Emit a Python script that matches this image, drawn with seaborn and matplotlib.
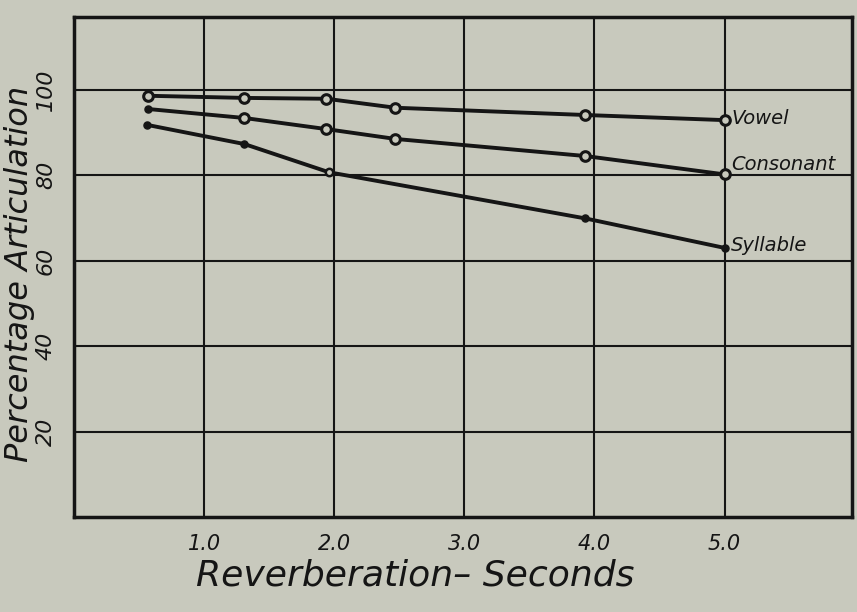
import matplotlib
matplotlib.use("Agg")
import matplotlib.pyplot as plt
import numpy as np
import pandas as pd
import seaborn as sns

# values
vowel_x = [0.57, 1.31, 1.94, 2.47, 3.93, 5.0]
vowel_y = [98.6, 98.1, 97.9, 95.8, 94.1, 92.9]
vowel_open = [True, True, True, True, True, True]

consonant_x = [0.57, 1.31, 1.94, 2.47, 3.93, 5.0]
consonant_y = [95.5, 93.4, 90.8, 88.5, 84.5, 80.2]
consonant_open = [False, True, True, True, True, True]

syllable_x = [0.56, 1.31, 1.96, 3.93, 5.0]
syllable_y = [91.8, 87.3, 80.7, 69.9, 63.0]
syllable_open = [False, False, True, False, False]

series_names = ["Vowel", "Consonant", "Syllable"]
label_shift = [0.3, 2.4, 0.6]
x_ticks = [1, 2, 3, 4, 5]
x_ticklabels = ["1.0", "2.0", "3.0", "4.0", "5.0"]
y_ticks = [20, 40, 60, 80, 100]
y_ticklabels = ["20", "40", "60", "80", "100"]

BG = "#c8c9bd"
INK = "#151515"

if __name__ == "__main__":
    sns.set_style("white")
    plt.rcParams["font.family"] = ["DejaVu Sans"]

    frames = []
    for name, xs, ys, opens in zip(
        series_names,
        (vowel_x, consonant_x, syllable_x),
        (vowel_y, consonant_y, syllable_y),
        (vowel_open, consonant_open, syllable_open),
    ):
        frames.append(pd.DataFrame({"x": xs, "y": ys, "open": opens, "series": name}))
    data = pd.concat(frames, ignore_index=True)

    fig = plt.figure(figsize=(8.57, 6.12), dpi=100, facecolor=BG)
    ax = fig.add_axes([0.0863, 0.155, 0.908, 0.817])
    ax.set_facecolor(BG)

    sns.lineplot(
        data=data, x="x", y="y", hue="series", sort=False, estimator=None,
        palette=[INK] * 3, linewidth=2.8, legend=False, ax=ax, zorder=3,
    )

    # open circles for measured points, small dots for the rest
    opened = data[data["open"]]
    closed = data[~data["open"]]
    big = opened[opened["series"] != "Syllable"]
    small = opened[opened["series"] == "Syllable"]
    ax.scatter(big["x"], big["y"], s=48, facecolor=BG, edgecolor=INK,
               linewidth=2.2, zorder=4)
    ax.scatter(small["x"], small["y"], s=28, facecolor=BG, edgecolor=INK,
               linewidth=1.8, zorder=4)
    ax.scatter(closed["x"], closed["y"], s=26, color=INK, zorder=4)

    # hand-lettered labels at the end of each curve
    for name, xs, ys, dy in zip(series_names, (vowel_x, consonant_x, syllable_x),
                                (vowel_y, consonant_y, syllable_y), label_shift):
        ax.text(xs[-1] + 0.05, ys[-1] + dy, name, fontsize=14, style="italic",
                color=INK, va="center", ha="left", zorder=5)

    ax.set_xlim(0, 5.98)
    ax.set_ylim(0, 117)
    ax.set_xticks(x_ticks)
    ax.set_xticklabels(x_ticklabels, fontsize=15, style="italic", color=INK)
    ax.set_yticks(y_ticks)
    ax.set_yticklabels(y_ticklabels, fontsize=16, style="italic", color=INK,
                       rotation=90, va="center")
    ax.tick_params(axis="both", length=0)
    ax.tick_params(axis="x", pad=12)
    ax.tick_params(axis="y", pad=13)

    ax.grid(True, color=INK, linewidth=1.5)
    ax.set_axisbelow(True)
    for spine in ax.spines.values():
        spine.set_visible(True)
        spine.set_color(INK)
        spine.set_linewidth(2.5)

    ax.set_xlabel("Reverberation\u2013 Seconds", fontsize=26, style="italic",
                  color=INK)
    ax.xaxis.set_label_coords(0.438, -0.082)
    ax.set_ylabel("Percentage Articulation", fontsize=23, style="italic",
                  color=INK)
    ax.yaxis.set_label_coords(-0.05, 0.486)

    fig.savefig("out.png", dpi=100, facecolor=BG)
